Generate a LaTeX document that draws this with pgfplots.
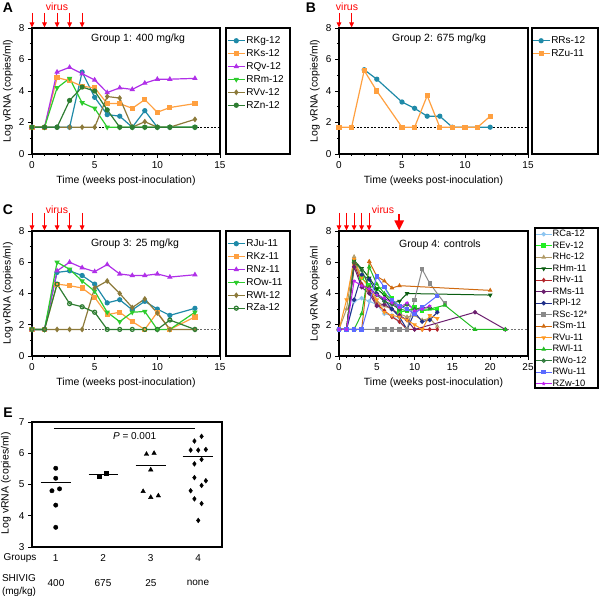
\documentclass[border=0pt]{standalone}
\usepackage{fontspec}
\setmainfont{Liberation Sans}
\usepackage{pgfplots}
\pgfplotsset{compat=1.18}
\usetikzlibrary{arrows.meta}
\definecolor{cTeal}{HTML}{1F8AA8}
\definecolor{cOrange}{HTML}{FFA040}
\definecolor{cPurple}{HTML}{B030E8}
\definecolor{cGreen}{HTML}{2ECC2E}
\definecolor{cOlive}{HTML}{8C7A3A}
\definecolor{cDkGreen}{HTML}{2E7D32}
\definecolor{dCa}{HTML}{8EC5F0}
\definecolor{dEv}{HTML}{22EE22}
\definecolor{dHc}{HTML}{B09A66}
\definecolor{dHm}{HTML}{0B5E12}
\definecolor{dHv}{HTML}{B3262B}
\definecolor{dMs}{HTML}{6B1E6E}
\definecolor{dPl}{HTML}{20308A}
\definecolor{dSc}{HTML}{8A8A8A}
\definecolor{dSm}{HTML}{D06A10}
\definecolor{dVu}{HTML}{FF9922}
\definecolor{dWl}{HTML}{22BB22}
\definecolor{dWo}{HTML}{2F7A3A}
\definecolor{dWu}{HTML}{5B6BFF}
\definecolor{dZw}{HTML}{C020F0}
\pgfplotsset{
  panel/.style={
    scale only axis, width=188pt, height=126pt,
    xmin=0, xmax=15, ymin=0, ymax=8,
    xtick={0,5,10,15}, minor xtick={1,...,14},
    ytick={0,2,4,6,8}, minor ytick={1,3,5,7},
    tick pos=left, tick align=outside,
    major tick length=4pt, minor tick length=2pt,
    tick style={black, line width=0.8pt},
    axis line style={line width=1.1pt},
    /pgf/number format/assume math mode=true,
    tick label style={font=\fontsize{10}{12}\selectfont},
    label style={font=\fontsize{10.5}{12}\selectfont},
    xlabel={Time (weeks post-inoculation)},
    ylabel={Log vRNA (copies/ml)},
    xlabel style={at={(axis description cs:0.5,-0.214)},anchor=center},
    ylabel style={at={(axis description cs:-0.128,0.5)},anchor=center},
    every axis plot/.append style={line width=1.2pt, mark size=2pt, mark options={solid}},
    legend cell align=left,
    legend style={draw=none, fill=none, inner sep=0pt, font=\fontsize{10}{12}\selectfont,
      anchor=north west, row sep=0.4pt,
      nodes={inner sep=1pt, text height=8pt, text depth=2.5pt}},
  },
  lod/.style={black, line width=0.5pt, dash pattern=on 2pt off 1.5pt, forget plot},
}
\tikzset{virusarrow/.style={red, line width=1pt, -{Triangle[width=4.5pt,length=5pt]}}}
\begin{document}
\begin{tikzpicture}[x=1pt,y=1pt]
\path[use as bounding box] (0,0) rectangle (600,596);

% ================= Panel A =================
\begin{axis}[panel, at={(32pt,442pt)}, anchor=south west,
  legend style={at={(1.037,0.95)}}]
\addplot[lod] coordinates {(0,1.7)(15,1.7)};
\addplot[cTeal, mark=*] coordinates {(0,1.7)(1,1.7)(2,1.7)(3,1.7)(4,5.2)(5,3.6)(6,2.5)(7,2.4)(8,1.7)(9,2.75)(10,1.7)(11,1.7)(13,1.7)};
\addlegendentry{RKg-12}
\addplot[cOrange, mark=square*] coordinates {(0,1.7)(1,1.7)(2,4.85)(3,4.65)(4,4.3)(5,4.2)(6,3.2)(7,3.2)(8,2.9)(9,3.45)(10,2.65)(11,2.95)(13,3.2)};
\addlegendentry{RKs-12}
\addplot[cPurple, mark=triangle*] coordinates {(0,1.7)(1,1.7)(2,5.2)(3,5.5)(4,5.1)(5,4.7)(6,3.9)(7,4.2)(8,4.1)(9,4.5)(10,4.75)(11,4.75)(13,4.8)};
\addlegendentry{RQv-12}
\addplot[cGreen, mark=triangle*, mark options={rotate=180}] coordinates {(0,1.7)(1,1.7)(2,4.2)(3,4.8)(4,3.25)(5,2.9)(6,1.7)(7,1.7)(8,1.7)(9,1.7)(10,1.7)(11,1.7)(13,1.7)};
\addlegendentry{RRm-12}
\addplot[cOlive, mark=diamond*] coordinates {(0,1.7)(1,1.7)(2,1.7)(3,1.7)(4,1.7)(5,1.7)(6,3.65)(7,3.55)(8,1.7)(9,2.05)(10,1.7)(11,1.7)(13,2.2)};
\addlegendentry{RVv-12}
\addplot[cDkGreen, mark=*] coordinates {(0,1.7)(1,1.7)(2,1.7)(3,3.4)(4,4.25)(5,4.0)(6,2.8)(7,1.7)(8,1.7)(9,1.7)(10,1.7)(11,1.7)(13,1.7)};
\addlegendentry{RZn-12}
\node[font=\fontsize{10.5}{12}\selectfont] at (axis description cs:0.564,0.913) {Group 1: 400 mg/kg};
\end{axis}
\draw[line width=1.1pt] (226,442) rectangle (290,568);

% ================= Panel B =================
\begin{axis}[panel, width=189pt, at={(339pt,442pt)}, anchor=south west,
  legend style={at={(1.02,0.95)}}]
\addplot[lod] coordinates {(0,1.7)(15,1.7)};
\addplot[cTeal, mark=*] coordinates {(2,5.35)(3,4.75)(5,3.3)(6,2.9)(7,2.4)(8,2.4)(9,1.7)(12,1.7)};
\addlegendentry{RRs-12}
\addplot[cOrange, mark=square*] coordinates {(0,1.7)(1,1.7)(2,5.3)(3,4.0)(5,1.7)(6,1.7)(7,3.7)(8,1.7)(9,1.7)(10,1.7)(11,1.7)(12,2.4)};
\addlegendentry{RZu-11}
\node[font=\fontsize{10.5}{12}\selectfont] at (axis description cs:0.529,0.913) {Group 2: 675 mg/kg};
\end{axis}
\draw[line width=1.1pt] (532,442) rectangle (598,568);

% ================= Panel C =================
\begin{axis}[panel, height=125pt, at={(32pt,240pt)}, anchor=south west,
  legend style={at={(1.037,0.95)}}]
\addplot[lod, black!60] coordinates {(0,1.7)(15,1.7)};
\addplot[cTeal, mark=*] coordinates {(0,1.7)(1,1.7)(2,5.35)(3,5.45)(4,5.15)(5,4.6)(6,3.4)(7,3.6)(8,2.95)(9,3.5)(10,3.0)(11,2.6)(13,3.05)};
\addlegendentry{RJu-11}
\addplot[cOrange, mark=square*] coordinates {(0,1.7)(1,1.7)(2,4.6)(3,4.5)(4,4.35)(5,3.75)(6,2.65)(7,2.8)(8,2.2)(9,1.7)(10,2.8)(11,1.7)(13,2.5)};
\addlegendentry{RKz-11}
\addplot[cPurple, mark=triangle*] coordinates {(0,1.7)(1,1.7)(2,5.45)(3,6.0)(4,5.65)(5,5.4)(6,5.85)(7,5.25)(8,5.15)(9,5.15)(10,5.25)(11,5.05)(13,5.2)};
\addlegendentry{RNz-11}
\addplot[cGreen, mark=triangle*, mark options={rotate=180}] coordinates {(0,1.7)(1,1.7)(2,6.0)(3,5.55)(4,4.8)(5,4.15)(6,2.8)(7,2.2)(8,2.8)(9,2.85)(10,1.7)(11,1.7)(13,2.8)};
\addlegendentry{ROw-11}
\addplot[cOlive, mark=diamond*] coordinates {(0,1.7)(1,1.7)(2,1.7)(3,1.7)(4,1.7)(5,4.35)(6,4.8)(7,4.0)(8,3.1)(9,3.65)(10,2.75)(11,1.7)(13,1.7)};
\addlegendentry{RWt-12}
\addplot[cDkGreen, mark=o] coordinates {(0,1.7)(1,1.7)(2,4.6)(3,3.35)(4,3.15)(5,2.8)(6,1.7)(7,1.7)(8,1.7)(9,1.7)(10,1.7)(11,2.3)(13,1.7)};
\addlegendentry{RZa-12}
\node[font=\fontsize{10.5}{12}\selectfont] at (axis description cs:0.548,0.9) {Group 3: 25 mg/kg};
\end{axis}
\draw[line width=1.1pt] (226,240) rectangle (290,365);

% ================= Panel D =================
\begin{axis}[panel, width=189pt, height=125pt, at={(339pt,240pt)}, anchor=south west,
  xmax=25, xtick={0,5,10,15,20,25}, minor xtick={1,...,24},
  ylabel={Log vRNA copies/ml},
  every axis plot/.append style={line width=1pt, mark size=1.7pt},
  legend style={at={(1.037,1.016)}, font=\fontsize{9.3}{10}\selectfont, row sep=1.5pt,
    nodes={inner sep=0.5pt, text height=7pt, text depth=2pt}},
  legend image code/.code={\draw[mark repeat=2,mark phase=2] plot coordinates {(0pt,0pt)(8pt,0pt)(16pt,0pt)};}]
\addplot[lod, black!55] coordinates {(0,1.7)(25,1.7)};
\addplot[dCa, mark=*] coordinates {(0,1.7)(1,1.7)(2,3.5)(3,3.7)(4,3.5)(5,3.3)(6,2.7)(7,2.6)(8,2.2)(9,1.7)};
\addlegendentry{RCa-12}
\addplot[dEv, mark=square*] coordinates {(0,1.7)(1,1.7)(2,6.0)(3,5.0)(4,4.5)(5,4.3)(6,4.4)(7,3.7)(8,2.8)(9,2.9)(10,3.1)(11,2.9)(13,3.0)};
\addlegendentry{REv-12}
\addplot[dHc, mark=triangle] coordinates {(0,1.7)(1,3.0)(2,6.35)(3,4.6)(4,4.2)(5,3.5)(6,3.2)(7,3.0)(8,2.7)(9,2.5)(10,2.6)(11,2.3)(12,2.4)(13,1.9)};
\addlegendentry{RHc-12}
\addplot[dHm, mark=triangle*, mark options={rotate=180}] coordinates {(0,1.7)(1,1.7)(2,6.1)(3,5.6)(4,5.0)(5,4.3)(6,3.9)(7,3.4)(8,3.5)(9,4.0)(20,3.9)};
\addlegendentry{RHm-11}
\addplot[dHv, mark=diamond*] coordinates {(0,1.7)(1,1.7)(2,5.9)(3,4.6)(4,4.2)(5,3.3)(6,2.9)(7,2.5)(8,2.2)(9,1.7)(10,1.7)(11,1.7)(12,1.7)(13,1.7)};
\addlegendentry{RHv-11}
\addplot[dMs, mark=*] coordinates {(0,1.7)(1,1.7)(2,5.7)(3,4.4)(4,4.0)(5,3.2)(6,3.3)(7,3.0)(8,2.6)(9,2.3)(10,1.7)(18,2.8)(22,1.7)};
\addlegendentry{RMs-11}
\addplot[dPl, mark=*] coordinates {(0,1.7)(1,1.7)(2,3.6)(3,5.2)(4,4.9)(5,4.0)(6,3.6)(7,3.0)(8,2.5)(9,1.7)(10,2.8)(11,2.2)(12,2.3)(13,2.8)};
\addlegendentry{RPl-12}
\addplot[dSc, mark=square*] coordinates {(0,1.7)(1,1.7)(2,1.7)(3,1.7)(5,1.7)(6,1.7)(7,1.7)(8,1.7)(9,1.7)(10,3.6)(11,5.55)(12,4.65)(14,3.35)};
\addlegendentry{RSc-12*}
\addplot[dSm, mark=triangle*] coordinates {(0,1.7)(1,1.7)(2,1.7)(3,1.7)(4,6.05)(5,5.1)(6,4.8)(7,4.35)(8,4.5)(20,4.2)};
\addlegendentry{RSm-11}
\addplot[dVu, mark=triangle*, mark options={rotate=180}] coordinates {(0,1.7)(1,3.6)(2,6.2)(3,5.0)(4,4.4)(5,3.6)(6,2.8)(7,2.6)(8,2.5)(9,2.3)(10,2.0)(11,1.7)(12,2.6)(13,2.4)};
\addlegendentry{RVu-11}
\addplot[dWl, mark=triangle*] coordinates {(0,1.7)(1,1.7)(2,1.7)(3,2.7)(4,5.7)(5,4.6)(6,4.0)(7,3.6)(8,3.0)(9,2.9)(10,3.0)(11,3.0)(12,3.0)(14,3.25)(18,1.7)(22,1.7)};
\addlegendentry{RWl-11}
\addplot[dWo, mark=o] coordinates {(0,1.7)(1,1.7)(2,6.0)(3,5.5)(4,4.4)(5,3.9)(6,3.5)(7,3.3)(8,3.0)(9,3.3)(10,3.0)(11,3.1)(12,3.1)};
\addlegendentry{RWo-12}
\addplot[dWu, mark=square*] coordinates {(0,1.7)(1,1.7)(2,1.7)(3,1.7)(5,5.1)(6,4.4)(7,3.6)(8,3.2)(9,3.0)(10,2.7)(11,3.1)(13,3.85)};
\addlegendentry{RWu-11}
\addplot[dZw, mark=star] coordinates {(0,1.7)(1,1.7)(2,4.8)(3,4.5)(4,4.3)(5,3.9)(6,3.7)(7,3.4)(8,3.1)(9,3.4)(10,2.9)(11,3.0)(12,3.2)};
\addlegendentry{RZw-10}
\node[font=\fontsize{10.5}{12}\selectfont] at (axis description cs:0.534,0.89) {Group 4: controls};
\end{axis}
\draw[line width=1.1pt] (535,208) rectangle (598,368);

% ================= Panel E =================
\begin{axis}[scale only axis, width=190pt, height=125pt, at={(32pt,49pt)}, anchor=south west,
  xmin=0.5, xmax=4.5, ymin=3, ymax=7,
  xtick={1,2,3,4}, ytick={3,4,5,6,7},
  tick pos=left, tick align=outside, major tick length=4pt,
  xtick style={draw=none}, ytick style={black, line width=0.8pt},
  axis line style={line width=1.1pt},
  /pgf/number format/assume math mode=true,
  tick label style={font=\fontsize{10}{12}\selectfont},
  ylabel={Log vRNA (copies/ml)},
  label style={font=\fontsize{10.5}{12}\selectfont},
  ylabel style={at={(axis description cs:-0.137,0.51)},anchor=center},
  clip=false]
\addplot[only marks, mark=*, mark size=2.2pt, black] coordinates {(1.0,5.52)(1.0,5.2)(0.92,4.8)(1.08,4.86)(1.0,4.34)(1.0,3.63)};
\addplot[only marks, mark=square*, mark size=2pt, black] coordinates {(1.92,5.28)(2.07,5.35)};
\addplot[only marks, mark=triangle*, mark size=2.6pt, black] coordinates {(2.91,5.97)(3.07,6.0)(3.0,5.47)(2.84,4.78)(3.0,4.59)(3.16,4.64)};
\addplot[only marks, mark=diamond*, mark size=2.4pt, black] coordinates {(4.07,6.54)(3.92,6.39)(3.84,6.10)(4.0,6.1)(4.16,6.12)(4.07,5.8)(3.92,5.66)(3.92,5.22)(4.16,5.12)(4.07,4.97)(3.84,4.8)(3.92,4.54)(4.07,4.39)(4.0,3.85)};
\addplot[black, line width=1pt] coordinates {(0.68,5.06)(1.33,5.06)};
\addplot[black, line width=1pt] coordinates {(1.69,5.33)(2.32,5.33)};
\addplot[black, line width=1pt] coordinates {(2.68,5.62)(3.32,5.62)};
\addplot[black, line width=1pt] coordinates {(3.67,5.91)(4.32,5.91)};
\addplot[black, line width=0.7pt] coordinates {(0.96,6.79)(3.93,6.79)};
\node[font=\fontsize{10}{12}\selectfont] at (axis cs:2.66,6.54) {\textit{P} = 0.001};
\end{axis}

% ================= annotations =================
\begin{scope}[font=\fontsize{14}{16}\selectfont\bfseries]
\node at (8,588) {A};
\node at (311,588) {B};
\node at (8,386) {C};
\node at (311,386) {D};
\node at (8,183) {E};
\end{scope}
\begin{scope}[font=\fontsize{10.5}{12}\selectfont, text=red]
\node at (57,589) {virus};
\node at (347,589) {virus};
\node at (57,386) {virus};
\node at (383,386) {virus};
\end{scope}
\foreach \xx in {32,44.5,57.1,69.6,82.1} {
  \draw[virusarrow] (\xx,583) -- (\xx,568.5);
  \draw[virusarrow] (\xx,383) -- (\xx,365.5);
}
\foreach \xx in {339,351.6} { \draw[virusarrow] (\xx,583) -- (\xx,568.5); }
\foreach \xx in {339,346.5,354.1,361.6,369.1} { \draw[virusarrow] (\xx,383) -- (\xx,365.5); }
\draw[red, line width=2.2pt, -{Triangle[width=9pt,length=10pt]}] (399.2,382) -- (399.2,365.5);

\begin{scope}[font=\fontsize{10}{12}\selectfont]
\node at (20,38) {Groups};
\node at (19,18) {SHIVIG};
\node at (19,4) {(mg/kg)};
\node at (56,13) {400};
\node at (103,13) {675};
\node at (151,13) {25};
\node at (198,13) {none};
\end{scope}
\end{tikzpicture}
\end{document}
